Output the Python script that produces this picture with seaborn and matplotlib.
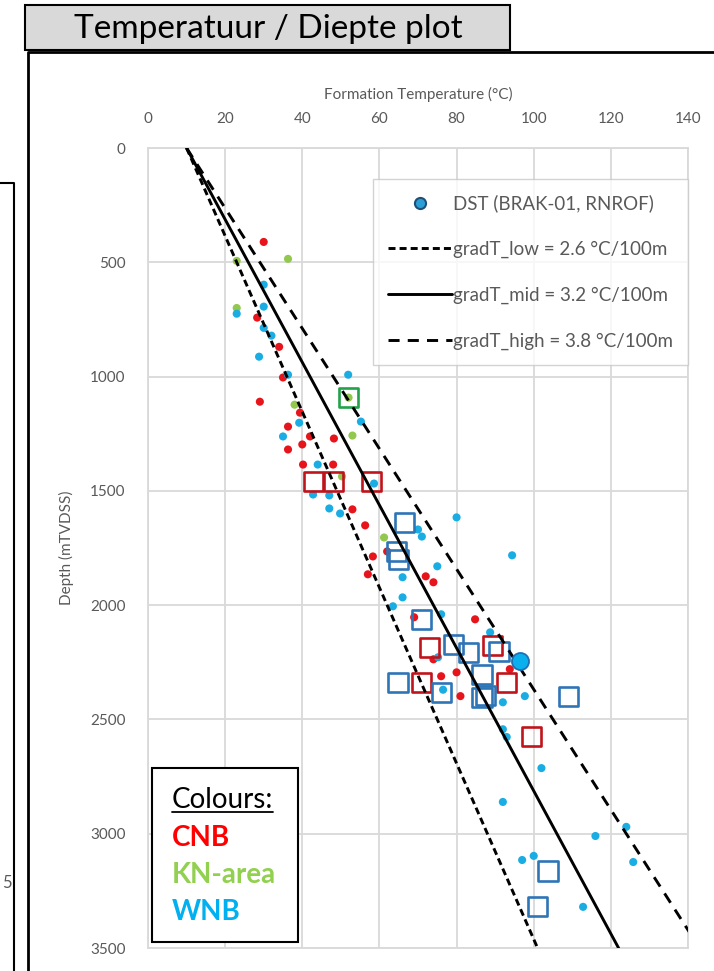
import numpy as np
import pandas as pd
import matplotlib
matplotlib.use("Agg")
import matplotlib.pyplot as plt
from matplotlib.lines import Line2D
from matplotlib.patches import Rectangle
import seaborn as sns

# ---- well temperature measurements (temperature in degC, depth in mTVDSS) ----
cnb_temp = [30, 28.3, 34, 35, 29, 39.4, 36.3, 42, 48.2, 36.3, 40, 40.2, 48, 53, 56.3,
            62, 58.3, 57, 72, 74, 69, 84.8, 93.8, 74, 76, 80, 81]
cnb_depth = [411, 742, 870, 1004, 1110, 1158, 1219, 1262, 1271, 1319, 1297, 1385, 1385,
             1581, 1651, 1765, 1787, 1865, 1874, 1900, 2053, 2062, 2280, 2237, 2311, 2294, 2398]

kn_temp = [23, 36.3, 23, 38, 53, 50.3, 61.2, 52]
kn_depth = [494, 485, 700, 1123, 1258, 1437, 1704, 1092]

wnb_temp = [30, 30, 23, 30, 32, 28.8, 36.3, 51.9, 39.2, 55.2, 35, 44, 58.6, 42.8, 47, 47,
            49.8, 80, 71, 70, 94.4, 75, 66, 66, 63.5, 76, 88.7, 75.2, 76.5, 92, 97.7, 92,
            93, 102, 92, 124, 116, 125.8, 97, 100, 112.8]
wnb_depth = [598, 694, 725, 787, 821, 913, 992, 992, 1202, 1197, 1262, 1385, 1468, 1516,
             1520, 1577, 1599, 1616, 1700, 1669, 1782, 1830, 1878, 1966, 2005, 2040, 2119,
             2228, 2370, 2425, 2398, 2543, 2577, 2713, 2861, 2970, 3010, 3124, 3115, 3097, 3320]

# ---- reservoir (square) measurements ----
cnb_sq_temp = [43, 48, 58, 73, 89.4, 71, 93, 99.5]
cnb_sq_depth = [1459, 1459, 1459, 2184, 2175, 2337, 2337, 2573]
kn_sq_temp = [51.9]
kn_sq_depth = [1092]
wnb_sq_temp = [66.6, 64.5, 65, 71, 79.3, 83, 91, 86.6, 64.8, 76.2, 86.6, 87.4, 109, 103.7, 101]
wnb_sq_depth = [1638, 1765, 1800, 2062, 2171, 2206, 2202, 2302, 2337, 2381, 2403, 2396, 2398, 3163, 3320]

# ---- DST measurement ----
dst_temp = [96.4]
dst_depth = [2245]

# ---- geothermal gradients ----
surface_temp = 10.0
grad_names = ["gradT_low", "gradT_mid", "gradT_high"]
grad_values = [2.6, 3.2, 3.8]          # degC / 100 m
grad_depths = [0, 3500]

x_ticks = [0, 20, 40, 60, 80, 100, 120, 140]
y_ticks = [0, 500, 1000, 1500, 2000, 2500, 3000, 3500]

RED, GREEN, BLUE = "#E8141C", "#92C84E", "#1AADE4"
SQ_RED, SQ_GREEN, SQ_BLUE = "#C0141C", "#22A24A", "#2E75B6"
GRID = "#D9D9D9"
TXT = "#595959"

sns.set_theme(style="white")
plt.rcParams["font.family"] = ["Lato", "DejaVu Sans"]

W, H = 714, 971
fig = plt.figure(figsize=(W / 100, H / 100), dpi=100)
fig.patch.set_facecolor("white")


def fx(x):
    return x / W


def fy(y):
    return 1 - y / H


ax = fig.add_axes([fx(148), fy(948), (688 - 148) / W, (948 - 148) / H])

dots = pd.concat([
    pd.DataFrame({"T": cnb_temp, "D": cnb_depth, "region": "CNB"}),
    pd.DataFrame({"T": kn_temp, "D": kn_depth, "region": "KN-area"}),
    pd.DataFrame({"T": wnb_temp, "D": wnb_depth, "region": "WNB"}),
], ignore_index=True)

sns.scatterplot(data=dots, x="T", y="D", hue="region",
                palette={"CNB": RED, "KN-area": GREEN, "WNB": BLUE},
                s=34, edgecolor="none", legend=False, ax=ax, zorder=2)

for t, d, c in [(cnb_sq_temp, cnb_sq_depth, SQ_RED),
                (kn_sq_temp, kn_sq_depth, SQ_GREEN),
                (wnb_sq_temp, wnb_sq_depth, SQ_BLUE)]:
    ax.scatter(t, d, marker="s", s=190, facecolors="none", edgecolors=c,
               linewidths=1.9, zorder=3)

styles = {"gradT_low": (0, (2.4, 1.4)), "gradT_mid": "-", "gradT_high": (0, (3.8, 2.8))}
for name, g in zip(grad_names, grad_values):
    temps = [surface_temp + g * d / 100 for d in grad_depths]
    df = pd.DataFrame({"T": temps, "D": grad_depths})
    sns.lineplot(data=df, x="T", y="D", sort=False, orient="y", ax=ax, color="black",
                 lw=2.1, linestyle=styles[name], zorder=4)

sns.scatterplot(x=dst_temp, y=dst_depth, s=150, color="#0AB0EE", edgecolor="#1F6FB4",
                linewidth=1.3, ax=ax, zorder=5, legend=False)

ax.set_xlim(0, 140)
ax.set_ylim(3500, 0)
ax.set_xticks(x_ticks)
ax.set_yticks(y_ticks)
ax.xaxis.tick_top()
ax.xaxis.set_label_position("top")
ax.tick_params(length=0, labelsize=11, labelcolor=TXT)
ax.tick_params(axis="x", pad=16)
ax.tick_params(axis="y", pad=16)
ax.set_xlabel("Formation Temperature (°C)", fontsize=11, color=TXT, labelpad=9)
ax.set_ylabel("Depth (mTVDSS)", fontsize=11, color=TXT, labelpad=12)
ax.grid(True, color=GRID, lw=1.3)
ax.set_axisbelow(True)
for sp in ax.spines.values():
    sp.set_color(GRID)
    sp.set_linewidth(1.3)

# legend
handles = [
    Line2D([], [], ls="none", marker="o", ms=8, mfc="#2A9FD6", mec="#1F4E79", mew=1.5),
    Line2D([], [], color="black", lw=2.1, ls=styles["gradT_low"]),
    Line2D([], [], color="black", lw=2.1, ls=styles["gradT_mid"]),
    Line2D([], [], color="black", lw=2.1, ls=styles["gradT_high"]),
]
labels = ["DST (BRAK-01, RNROF)"] + [f"{n} = {v} °C/100m" for n, v in zip(grad_names, grad_values)]
leg = ax.legend(handles, labels, loc="upper right", bbox_to_anchor=(1.0, 0.961),
                fontsize=13.5, frameon=True, fancybox=False, edgecolor="#C8C8C8",
                handlelength=3.4, handletextpad=0.05, labelspacing=1.52, borderpad=0.8,
                borderaxespad=0)
leg.get_frame().set_linewidth(1.0)
for t in leg.get_texts():
    t.set_color(TXT)
leg.set_zorder(6)

# colour key box
fig.add_artist(Rectangle((fx(152), fy(942)), (298 - 152) / W, (942 - 768) / H,
                         transform=fig.transFigure, facecolor="white",
                         edgecolor="black", lw=1.5, zorder=7))
key = [("Colours:", "black", "normal"), ("CNB", "#FF0000", "bold"),
       ("KN-area", "#92D050", "bold"), ("WNB", "#00B0F0", "bold")]
key_y = [800, 838, 875, 912]
key_txt = []
for (s, c, w), y in zip(key, key_y):
    key_txt.append(fig.text(fx(172), fy(y), s, color=c, fontweight=w, fontsize=20,
                            va="center", ha="left", zorder=8))

# title box and frames
fig.add_artist(Rectangle((fx(25), fy(50)), (510 - 25) / W, (50 - 5) / H,
                         transform=fig.transFigure, facecolor="#D9D9D9",
                         edgecolor="black", lw=1.5, zorder=7))
fig.text(fx(268), fy(29), "Temperatuur / Diepte plot", fontsize=24, color="black",
         ha="center", va="center", zorder=8)
fig.add_artist(Line2D([fx(28), fx(28), fx(714)], [fy(971), fy(52), fy(52)],
                      transform=fig.transFigure, color="black", lw=2, zorder=7))
fig.add_artist(Line2D([fx(0), fx(14), fx(14)], [fy(183), fy(183), fy(971)],
                      transform=fig.transFigure, color="black", lw=1.5, zorder=7))
fig.text(fx(2), fy(883), "5", fontsize=12, color=TXT, ha="left", va="center")

# underline for the key heading
fig.canvas.draw()
bb = key_txt[0].get_window_extent().transformed(fig.transFigure.inverted())
fig.add_artist(Line2D([bb.x0, bb.x1], [bb.y0 + 0.001, bb.y0 + 0.001],
                      transform=fig.transFigure, color="black", lw=1.3, zorder=8))

fig.savefig("out.png", dpi=100, facecolor="white")
